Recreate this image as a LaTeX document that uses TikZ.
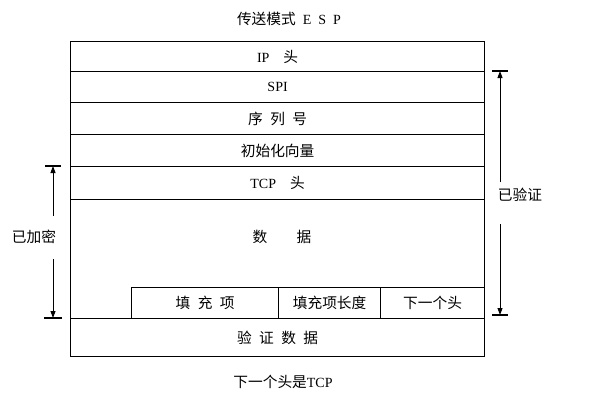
\documentclass[tikz,border=0pt]{standalone}
\usepackage{fontspec}
\setmainfont{Liberation Serif}
\newfontfamily\cjk{Noto Sans CJK SC}[Scale=1.05]
\usetikzlibrary{arrows.meta}
\begin{document}
\begin{tikzpicture}[x=1pt,y=-1pt,
  row/.style={draw,line width=1.2pt,anchor=north west,inner sep=0pt,font=\fontsize{14}{16}\selectfont},
  lbl/.style={font=\fontsize{14}{16}\selectfont,inner sep=1pt},
  arr/.style={line width=0.9pt,-{Triangle[length=7pt,width=5pt]}},
  bar/.style={line width=1.2pt}]
\useasboundingbox (0,0) rectangle (604,407);
\node[row,minimum width=414,minimum height=30] (ip) at (70,41) {IP\quad{\cjk 头}};
\node[row,minimum width=414,minimum height=31] (spi) at (70,71) {SPI};
\node[row,minimum width=414,minimum height=32] (seq) at (70,102) {\cjk 序\enspace 列\enspace 号};
\node[row,minimum width=414,minimum height=32] (iv) at (70,134) {\cjk 初始化向量};
\node[row,minimum width=414,minimum height=33] (tcp) at (70,166) {TCP\quad{\cjk 头}};
\node[row,minimum width=414,minimum height=119] (data) at (70,199) {};
\node[lbl] (datat) at (282,237) {\cjk 数\qquad 据};
\node[row,minimum width=147,minimum height=31] (pad) at (131,287) {\cjk 填\enspace 充\enspace 项};
\node[row,minimum width=102,minimum height=31] (padlen) at (278,287) {\cjk 填充项长度};
\node[row,minimum width=104,minimum height=31] (next) at (380,287) {\cjk 下一个头};
\node[row,minimum width=414,minimum height=38] (authd) at (70,318) {\cjk 验\enspace 证\enspace 数\enspace 据};
\node[lbl] (title) at (289,19) {{\cjk 传送模式}\enspace E\enspace S\enspace P};
\node[lbl] (cap) at (283,382) {{\cjk 下一个头是}TCP};
\node[lbl] (enc) at (34,237) {\cjk 已加密};
\node[lbl] (ver) at (520,195) {\cjk 已验证};
\coordinate (et) at (53,166);
\coordinate (eb) at (53,318);
\coordinate (vt) at (500,71);
\coordinate (vb) at (500,315);
\draw[arr] (53,216) -- (et);
\draw[arr] (53,259) -- (eb);
\draw[bar] ([xshift=-8pt]et) -- ([xshift=8pt]et);
\draw[bar] ([xshift=-9pt]eb) -- ([xshift=9pt]eb);
\draw[arr] (500,182) -- (vt);
\draw[arr] (500,224) -- (vb);
\draw[bar] ([xshift=-8pt]vt) -- ([xshift=8pt]vt);
\draw[bar] ([xshift=-8pt]vb) -- ([xshift=8pt]vb);
\end{tikzpicture}
\end{document}
